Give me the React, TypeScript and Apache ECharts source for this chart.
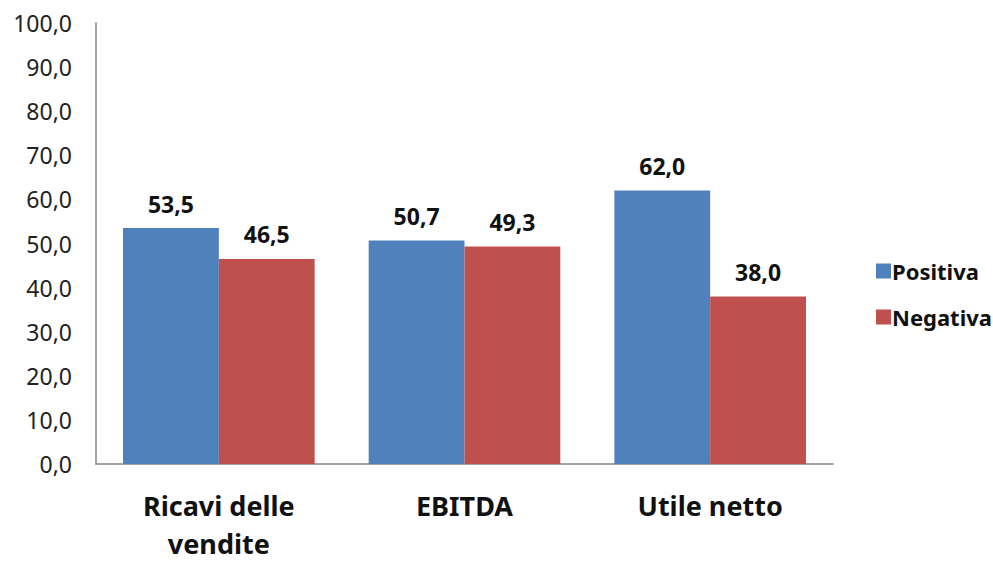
import React, { useEffect, useRef } from "react";
import * as echarts from "echarts";

const categories = ["Ricavi delle\nvendite", "EBITDA", "Utile netto"];
const positiva = [53.5, 50.7, 62.0];
const negativa = [46.5, 49.3, 38.0];
const seriesNames = ["Positiva", "Negativa"];

const fmt = (v: number) => v.toFixed(1).replace(".", ",");

export default function App() {
  const ref = useRef<HTMLDivElement>(null);
  useEffect(() => {
    document.body.style.margin = "0";
    const chart = echarts.init(ref.current!, null, { renderer: "svg" });
    const labelStyle = {
      show: true,
      position: "top" as const,
      distance: 13,
      fontFamily: "Noto Sans",
      fontWeight: "bold" as const,
      fontSize: 23,
      color: "#111",
      formatter: (p: any) => fmt(p.value),
    };
    chart.setOption({
      animation: false,
      backgroundColor: "#fff",
      grid: { left: 96, right: 160, top: 23, bottom: 91, containLabel: false },
      legend: {
        orient: "vertical",
        left: 871,
        top: 255,
        itemWidth: 15,
        itemHeight: 15,
        itemGap: 24,
        icon: "rect",
        textStyle: {
          fontFamily: "Noto Sans",
          fontWeight: "bold",
          fontSize: 22,
          lineHeight: 22,
          color: "#111",
          padding: [0, 0, 0, -4],
        },
        data: seriesNames,
      },
      xAxis: {
        type: "category",
        data: categories,
        axisLine: { show: true, lineStyle: { color: "#868686", width: 1.5 } },
        axisTick: { show: false },
        axisLabel: {
          margin: 22,
          fontFamily: "Noto Sans",
          fontWeight: "bold",
          fontSize: 27,
          lineHeight: 38,
          color: "#111",
          interval: 0,
        },
      },
      yAxis: {
        type: "value",
        min: 0,
        max: 100,
        interval: 10,
        axisLine: { show: true, lineStyle: { color: "#868686", width: 1.5 } },
        axisTick: { show: false },
        splitLine: { show: false },
        axisLabel: {
          margin: 24,
          fontFamily: "Noto Sans",
          fontSize: 23,
          color: "#222",
          formatter: (v: number) => fmt(v),
        },
      },
      series: [
        {
          name: seriesNames[0],
          type: "bar",
          data: positiva,
          barGap: "0%",
          barCategoryGap: "22%",
          itemStyle: { color: "#4F81BD" },
          label: labelStyle,
        },
        {
          name: seriesNames[1],
          type: "bar",
          data: negativa,
          barGap: "0%",
          barCategoryGap: "22%",
          itemStyle: { color: "#C0504D" },
          label: labelStyle,
        },
      ],
    });
    return () => chart.dispose();
  }, []);
  return (
    <div
      ref={ref}
      style={{ position: "absolute", left: 0, top: 0, width: 993, height: 562 }}
    />
  );
}
